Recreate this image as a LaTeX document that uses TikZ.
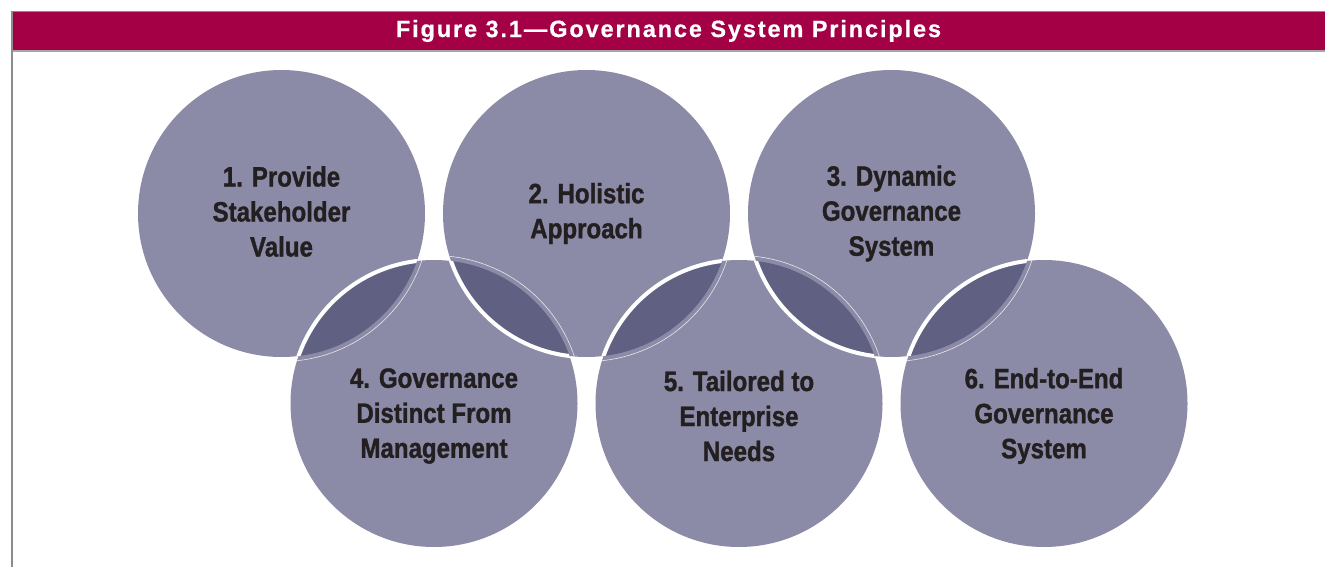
\documentclass[tikz,border=0pt]{standalone}
\usepackage{fontspec}
\setmainfont{Liberation Sans}
\newfontfamily\discfont[FakeStretch=0.86,FakeBold=1.2]{Liberation Sans}
\newfontfamily\headfont[LetterSpace=8,FakeBold=0.6]{Liberation Sans}
\usetikzlibrary{positioning}

\definecolor{crimson}{HTML}{A30046}
\definecolor{disclight}{HTML}{8B8BA7}
\definecolor{discdark}{HTML}{606082}
\definecolor{inkdark}{HTML}{231F20}
\definecolor{rulegray}{HTML}{8C8C8C}

\tikzset{
  disc/.style={circle,fill=disclight,minimum size=287pt,inner sep=0pt},
  principle/.style={font=\discfont\bfseries\fontsize{28}{35}\selectfont,text=inkdark,align=center},
  heading/.style={font=\headfont\bfseries\fontsize{23.5}{27}\selectfont,text=white},
}

% overlap of two discs: #1 lies below, #2 on top
\newcommand\overlap[2]{%
  \begin{scope}
    \clip (#1.center) circle (143.5pt);
    \fill[discdark] (#2.center) circle (143.5pt);
    \draw[white,line width=4pt] (#2.center) circle (143.5pt);
  \end{scope}
  \begin{scope}
    \clip (#2.center) circle (143.5pt);
    \draw[white,line width=0.6pt,opacity=0.8] (#1.center) circle (148pt);
  \end{scope}}

\begin{document}
\begin{tikzpicture}[x=1pt,y=-1pt,node distance=190pt and 152.5pt,on grid]
  \useasboundingbox (0,0) rectangle (1325,567);

  % frame and title bar
  \fill[crimson] (12,12) rectangle (1325,51);
  \draw[rulegray,line width=1pt] (12,12) -- (1325,12);
  \draw[gray!70,line width=1.2pt] (12,51) -- (1325,51);
  \draw[rulegray,line width=2pt] (12,11.5) -- (12,567);
  \node[heading] (title) at (668.5,31) {Figure 3.1—Governance System Principles};

  % discs
  \node[disc] (c1) at (281.5,213.5) {};
  \node[disc] (c4) [below right=of c1] {};
  \node[disc] (c2) [above right=of c4] {};
  \node[disc] (c5) [below right=of c2] {};
  \node[disc] (c3) [above right=of c5] {};
  \node[disc] (c6) [below right=of c3] {};

  \overlap{c1}{c4}
  \overlap{c4}{c2}
  \overlap{c2}{c5}
  \overlap{c5}{c3}
  \overlap{c3}{c6}

  % labels
  \node[principle] (p1) at ([yshift=2pt]c1.center) {1. Provide\\Stakeholder\\Value};
  \node[principle] (p2) at (c2) {2. Holistic\\Approach};
  \node[principle] (p3) at (c3) {3. Dynamic\\Governance\\System};
  \node[principle] (p4) at ([yshift=-12.5pt]c4.center) {4. Governance\\Distinct From\\Management};
  \node[principle] (p5) at ([yshift=-12.5pt]c5.center) {5. Tailored to\\Enterprise\\Needs};
  \node[principle] (p6) at ([yshift=-12.5pt]c6.center) {6. End-to-End\\Governance\\System};
\end{tikzpicture}
\end{document}
